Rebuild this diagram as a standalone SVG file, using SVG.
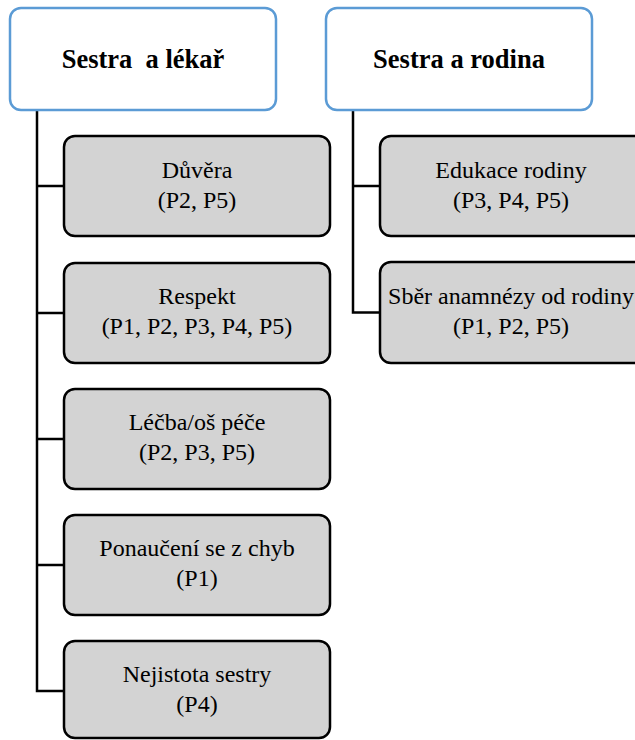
<svg xmlns="http://www.w3.org/2000/svg" width="635" height="740" viewBox="0 0 635 740">
<style>
.hdr{fill:#ffffff;stroke:#5b9bd5;stroke-width:2.5}
.box{fill:#d3d3d3;stroke:#000000;stroke-width:2.5}
.ht{font-family:'Liberation Serif',serif;font-weight:bold;font-size:26.5px;fill:#000;text-anchor:middle}
.bt{font-family:'Liberation Serif',serif;font-size:24px;fill:#000;text-anchor:middle}
.con{fill:none;stroke:#000000;stroke-width:2.5}
</style>
<rect width="635" height="740" fill="#ffffff"/>
<g id="connectors">
<path class="con" d="M37,110 V691 H64"/>
<path class="con" d="M37,186 H64 M37,313 H64 M37,439 H64 M37,565 H64"/>
<path class="con" d="M353,110 V312.5 H380"/>
<path class="con" d="M353,186 H380"/>
</g>
<g id="h1">
<rect class="hdr" x="10" y="8" width="266" height="102" rx="11"/>
<text class="ht" font-family="Liberation Serif, serif" x="143" y="68" xml:space="preserve">Sestra  a lékař</text>
</g>
<g id="h2">
<rect class="hdr" x="326" y="8" width="266" height="102" rx="11"/>
<text class="ht" font-family="Liberation Serif, serif" x="459" y="68">Sestra a rodina</text>
</g>
<g id="n1">
<rect class="box" x="64" y="136" width="266" height="100" rx="11"/>
<text class="bt" font-family="Liberation Serif, serif" x="197" y="177.5">Důvěra</text>
<text class="bt" font-family="Liberation Serif, serif" x="197" y="207.5">(P2, P5)</text>
</g>
<g id="n2">
<rect class="box" x="64" y="263" width="266" height="100" rx="11"/>
<text class="bt" font-family="Liberation Serif, serif" x="197" y="304">Respekt</text>
<text class="bt" font-family="Liberation Serif, serif" x="197" y="334">(P1, P2, P3, P4, P5)</text>
</g>
<g id="n3">
<rect class="box" x="64" y="389" width="266" height="100" rx="11"/>
<text class="bt" font-family="Liberation Serif, serif" x="197" y="430">Léčba/oš péče</text>
<text class="bt" font-family="Liberation Serif, serif" x="197" y="460">(P2, P3, P5)</text>
</g>
<g id="n4">
<rect class="box" x="64" y="515" width="266" height="100" rx="11"/>
<text class="bt" font-family="Liberation Serif, serif" x="197" y="556">Ponaučení se z chyb</text>
<text class="bt" font-family="Liberation Serif, serif" x="197" y="586">(P1)</text>
</g>
<g id="n5">
<rect class="box" x="64" y="641" width="266" height="97" rx="11"/>
<text class="bt" font-family="Liberation Serif, serif" x="197" y="682">Nejistota sestry</text>
<text class="bt" font-family="Liberation Serif, serif" x="197" y="712">(P4)</text>
</g>
<g id="n6">
<rect class="box" x="380" y="136" width="266" height="100" rx="11"/>
<text class="bt" font-family="Liberation Serif, serif" x="511" y="177.5">Edukace rodiny</text>
<text class="bt" font-family="Liberation Serif, serif" x="511" y="207.5">(P3, P4, P5)</text>
</g>
<g id="n7">
<rect class="box" x="380" y="262" width="266" height="101" rx="11"/>
<text class="bt" font-family="Liberation Serif, serif" x="511" y="303.5">Sběr anamnézy od rodiny</text>
<text class="bt" font-family="Liberation Serif, serif" x="511" y="333.5">(P1, P2, P5)</text>
</g>
</svg>
